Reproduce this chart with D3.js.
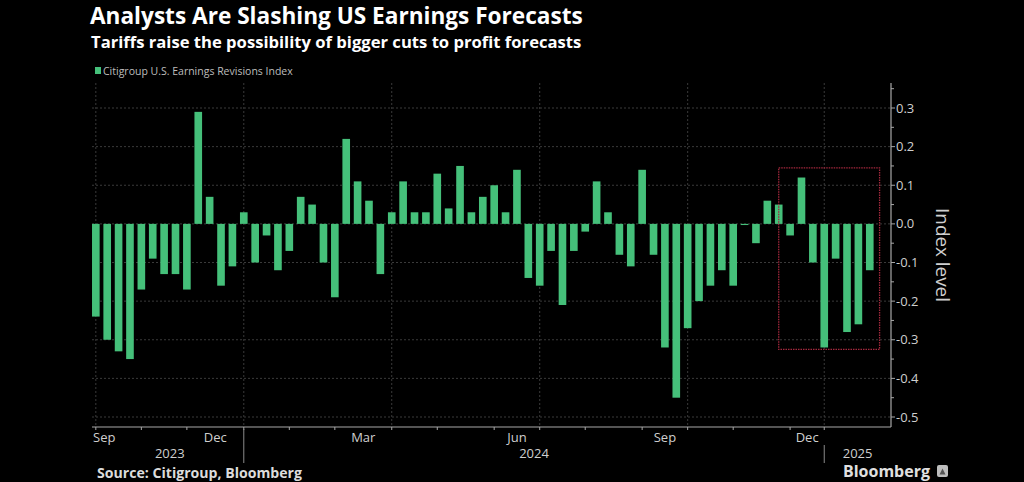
<!DOCTYPE html>
<html>
<head>
<meta charset="utf-8">
<script src="https://cdn.jsdelivr.net/npm/d3@7/dist/d3.min.js"></script>
<style>
  html, body { margin: 0; padding: 0; background: #000; }
  svg { display: block; }
</style>
</head>
<body>
<svg id="chart" width="1024" height="482"></svg>
<script>
// ---------------- DATA ----------------
const title = "Analysts Are Slashing US Earnings Forecasts";
const subtitle = "Tariffs raise the possibility of bigger cuts to profit forecasts";
const seriesName = "Citigroup U.S. Earnings Revisions Index";
const source = "Source: Citigroup, Bloomberg";
const yAxisTitle = "Index level";

const dates = [
  "2023-10-06","2023-10-13","2023-10-20","2023-10-27","2023-11-03","2023-11-10","2023-11-17","2023-11-24",
  "2023-12-01","2023-12-08","2023-12-15","2023-12-22","2023-12-29",
  "2024-01-05","2024-01-12","2024-01-19","2024-01-26","2024-02-02","2024-02-09","2024-02-16","2024-02-23",
  "2024-03-01","2024-03-08","2024-03-15","2024-03-22","2024-03-29","2024-04-05","2024-04-12","2024-04-19",
  "2024-04-26","2024-05-03","2024-05-10","2024-05-17","2024-05-24","2024-05-31","2024-06-07","2024-06-14",
  "2024-06-21","2024-06-28","2024-07-05","2024-07-12","2024-07-19","2024-07-26","2024-08-02","2024-08-09",
  "2024-08-16","2024-08-23","2024-08-30","2024-09-06","2024-09-13","2024-09-20","2024-09-27","2024-10-04",
  "2024-10-11","2024-10-18","2024-10-25","2024-11-01","2024-11-08","2024-11-15","2024-11-22","2024-11-29",
  "2024-12-06","2024-12-13","2024-12-20",
  "2025-01-03","2025-01-10","2025-01-17","2025-01-24","2025-01-31"
];

const values = [
  -0.24,-0.30,-0.33,-0.35,-0.17,-0.09,-0.13,-0.13,
  -0.17, 0.29, 0.07,-0.16,-0.11,
   0.03,-0.10,-0.03,-0.12,-0.07, 0.07, 0.05,-0.10,
  -0.19, 0.22, 0.11, 0.06,-0.13, 0.03, 0.11, 0.03,
   0.03, 0.13, 0.04, 0.15, 0.03, 0.07, 0.10, 0.03,
   0.14,-0.14,-0.16,-0.07,-0.21,-0.07,-0.02, 0.11,
   0.03,-0.08,-0.11, 0.14,-0.08,-0.32,-0.45,-0.27,
  -0.20,-0.16,-0.12,-0.16,-0.003,-0.05, 0.06, 0.05,
  -0.03, 0.12,-0.10,
  -0.32,-0.09,-0.28,-0.26,-0.12
];

const yTickValues = [0.3, 0.2, 0.1, 0.0, -0.1, -0.2, -0.3, -0.4, -0.5];
const yTickLabels = ["0.3","0.2","0.1","0.0","-0.1","-0.2","-0.3","-0.4","-0.5"];
const yMinorTicks = [0.35, 0.25, 0.15, 0.05, -0.05, -0.15, -0.25, -0.35, -0.45];

const monthLabelKeys = ["2023-09","2023-12","2024-03","2024-06","2024-09","2024-12"];
const monthLabels    = ["Sep","Dec","Mar","Jun","Sep","Dec"];
const years = ["2023","2024","2025"];
const gridMonths = ["01","04","07","10"];

// highlighted box annotation (data coordinates)
const boxStartDate = "2024-11-29";
const boxEndDate = "2025-01-31";
const boxTopValue = 0.145;
const boxBottomValue = -0.325;

// ---------------- LAYOUT ----------------
const W = 1024, H = 482;
const plotLeft = 92, axisX = 891, plotTop = 83, plotBottom = 427;
const barColor = "#45c07a";
const gridColor = "#3a3a3a";
const axisColor = "#a8a8a8";
const textColor = "#cfcfcf";
const font = "'Open Sans', 'DejaVu Sans', sans-serif";

const svg = d3.select("#chart");
svg.append("rect").attr("width", W).attr("height", H).attr("fill", "#000");

const x = d3.scaleBand().domain(dates).range([88.6, 877]).paddingInner(0.33).paddingOuter(0.3);
const y = d3.scaleLinear().domain([-0.5, 0.3]).range([417, 108]);
const bw = x.bandwidth();
const cx = d => x(d) + bw / 2;

function fitWidth(sel, target) {
  const w = sel.node().getComputedTextLength();
  const fs = parseFloat(sel.attr("font-size"));
  sel.attr("font-size", fs * target / w);
}

// titles
const t1 = svg.append("text").attr("x", 90).attr("y", 24).attr("fill", "#fff")
  .attr("font-family", font).attr("font-weight", 700).attr("font-size", 22).text(title);
fitWidth(t1, 493);
const t2 = svg.append("text").attr("x", 91).attr("y", 47.5).attr("fill", "#fff")
  .attr("font-family", font).attr("font-weight", 700).attr("font-size", 16).text(subtitle);
fitWidth(t2, 491);

// legend
svg.append("rect").attr("x", 95).attr("y", 67).attr("width", 6).attr("height", 7).attr("fill", barColor);
const lg = svg.append("text").attr("x", 103).attr("y", 74.5).attr("fill", "#bdbdbd")
  .attr("font-family", font).attr("font-size", 11).text(seriesName);
fitWidth(lg, 190);

// month structure
const monthKey = d => d.slice(0, 7);
const firstOfMonth = new Map();
dates.forEach(d => { const k = monthKey(d); if (!firstOfMonth.has(k)) firstOfMonth.set(k, d); });
const monthKeys = Array.from(firstOfMonth.keys());

// gridlines
const g = svg.append("g");
g.selectAll("line.hg").data(yTickValues).join("line")
  .attr("x1", plotLeft).attr("x2", axisX).attr("y1", d => y(d)).attr("y2", d => y(d))
  .attr("stroke", gridColor).attr("stroke-width", 1).attr("stroke-dasharray", "2,2");
const gridDates = monthKeys.filter(k => gridMonths.includes(k.slice(5))).map(k => firstOfMonth.get(k));
g.selectAll("line.vg").data(gridDates).join("line")
  .attr("x1", d => cx(d)).attr("x2", d => cx(d)).attr("y1", plotTop).attr("y2", plotBottom)
  .attr("stroke", gridColor).attr("stroke-width", 1).attr("stroke-dasharray", "2,2");

// bars
svg.append("g").selectAll("rect").data(dates).join("rect")
  .attr("x", d => x(d))
  .attr("width", bw)
  .attr("y", (d, i) => Math.min(y(values[i]), y(0)))
  .attr("height", (d, i) => Math.max(1, Math.abs(y(values[i]) - y(0))))
  .attr("fill", barColor);

// highlight box
svg.append("rect")
  .attr("x", cx(boxStartDate))
  .attr("y", y(boxTopValue))
  .attr("width", x(boxEndDate) + bw + 6 - cx(boxStartDate))
  .attr("height", y(boxBottomValue) - y(boxTopValue))
  .attr("fill", "none").attr("stroke", "#a3283d").attr("stroke-width", 1.3)
  .attr("stroke-dasharray", "1.5,1");

// x axis
svg.append("line").attr("x1", plotLeft).attr("x2", axisX).attr("y1", plotBottom).attr("y2", plotBottom)
  .attr("stroke", axisColor).attr("stroke-width", 1.2);
svg.append("g").selectAll("line").data(monthKeys.map(k => firstOfMonth.get(k))).join("line")
  .attr("x1", d => cx(d)).attr("x2", d => cx(d)).attr("y1", plotBottom).attr("y2", plotBottom + 3)
  .attr("stroke", axisColor);

function tickOf(k) { return firstOfMonth.has(k) ? cx(firstOfMonth.get(k)) : null; }
function nextMonth(k) {
  let [yy, mm] = k.split("-").map(Number); mm += 1; if (mm > 12) { mm = 1; yy += 1; }
  return yy + "-" + String(mm).padStart(2, "0");
}
monthLabelKeys.forEach((k, i) => {
  const start = tickOf(k);
  const end = tickOf(nextMonth(k));
  const t = svg.append("text").attr("y", 442).attr("fill", textColor)
    .attr("font-family", font).attr("font-size", 13).text(monthLabels[i]);
  if (start === null) {
    t.attr("x", 93).attr("text-anchor", "start");
  } else {
    t.attr("x", (start + end) / 2).attr("text-anchor", "middle");
  }
});

// years
years.forEach((yr, i) => {
  const first = dates.find(d => d.startsWith(yr));
  const start = cx(first);
  const nxt = years[i + 1] ? dates.find(d => d.startsWith(years[i + 1])) : null;
  const end = nxt ? cx(nxt) : axisX;
  svg.append("text").attr("x", (start + end) / 2).attr("y", 458).attr("text-anchor", "middle")
    .attr("fill", textColor).attr("font-family", font).attr("font-size", 13).text(yr);
  if (i > 0) {
    svg.append("line").attr("x1", start).attr("x2", start)
      .attr("y1", i === 1 ? plotBottom + 2 : 445).attr("y2", 463)
      .attr("stroke", "#8a8a8a").attr("stroke-width", 1);
  }
});

// y axis
svg.append("line").attr("x1", axisX).attr("x2", axisX).attr("y1", plotTop).attr("y2", plotBottom)
  .attr("stroke", axisColor).attr("stroke-width", 1.2);
svg.append("g").selectAll("line").data(yTickValues).join("line")
  .attr("x1", axisX).attr("x2", axisX + 4).attr("y1", d => y(d)).attr("y2", d => y(d)).attr("stroke", axisColor);
svg.append("g").selectAll("line").data(yMinorTicks).join("line")
  .attr("x1", axisX).attr("x2", axisX + 3).attr("y1", d => y(d)).attr("y2", d => y(d)).attr("stroke", axisColor);
svg.append("g").selectAll("text").data(yTickValues).join("text")
  .attr("x", axisX + 5).attr("y", d => y(d)).attr("dy", "0.35em")
  .attr("fill", textColor).attr("font-family", font).attr("font-size", 13)
  .text((d, i) => yTickLabels[i]);
const yt = svg.append("text").attr("transform", "translate(936,255) rotate(90)").attr("text-anchor", "middle")
  .attr("fill", textColor).attr("font-family", font).attr("font-size", 15).text(yAxisTitle);
fitWidth(yt, 94);

// footer
const src = svg.append("text").attr("x", 97).attr("y", 478).attr("fill", "#dcdcdc")
  .attr("font-family", font).attr("font-weight", 700).attr("font-size", 12).text(source);
fitWidth(src, 205);
const bb = svg.append("text").attr("x", 843).attr("y", 477).attr("fill", "#e0e0e0")
  .attr("font-family", font).attr("font-weight", 700).attr("font-size", 15).text("Bloomberg");
fitWidth(bb, 87);
svg.append("rect").attr("x", 937).attr("y", 465).attr("width", 11).attr("height", 12).attr("rx", 2)
  .attr("fill", "#bdbdbd");
svg.append("path").attr("d", "M939.5,474.5 L942.5,468.5 L945.5,474.5 Z").attr("fill", "#555");
</script>
</body>
</html>
